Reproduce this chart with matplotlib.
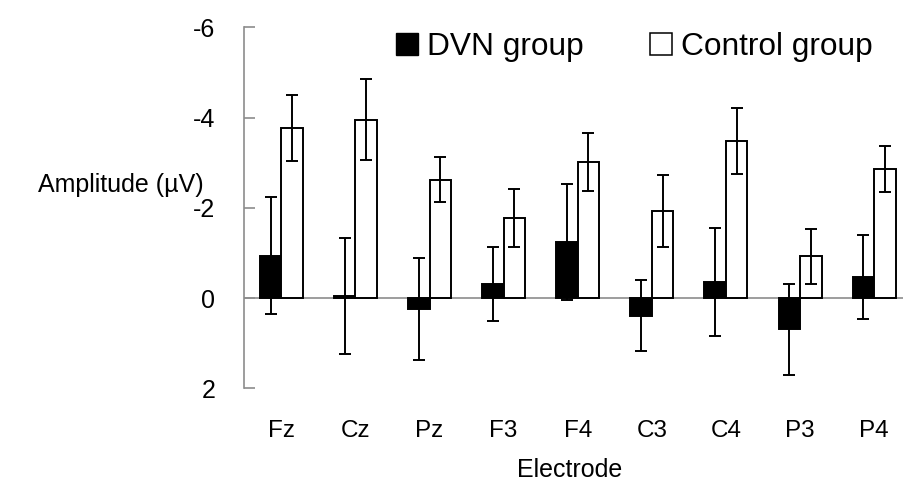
import numpy as np
import matplotlib
matplotlib.use("Agg")
import matplotlib.pyplot as plt
from matplotlib.patches import Patch

plt.rcParams['font.family'] = ['Liberation Sans', 'DejaVu Sans']

electrodes = ["Fz", "Cz", "Pz", "F3", "F4", "C3", "C4", "P3", "P4"]
dvn_mean = [-0.94, -0.05, 0.24, -0.31, -1.24, 0.39, -0.35, 0.69, -0.47]
dvn_err = [1.30, 1.29, 1.13, 0.82, 1.28, 0.79, 1.20, 1.01, 0.93]
ctrl_mean = [-3.77, -3.95, -2.62, -1.78, -3.02, -1.93, -3.48, -0.93, -2.86]
ctrl_err = [0.74, 0.90, 0.50, 0.64, 0.64, 0.80, 0.73, 0.61, 0.50]
yticks = [-6, -4, -2, 0, 2]
ytick_labels = ["-6", "-4", "-2", "0", "2"]

W, H = 904, 494
fig = plt.figure(figsize=(W / 100, H / 100), dpi=100)
ax = fig.add_axes([244.3 / W, 1 - 388.3 / H, 666.9 / W, 361.0 / H])

x = np.arange(len(electrodes))
bw = 0.29
lw = 1.4
ekw = dict(ecolor="black", elinewidth=lw, capsize=4.3, capthick=lw)
ax.bar(x - bw / 2, dvn_mean, bw, color="black", edgecolor="black",
       linewidth=lw, yerr=dvn_err, error_kw=ekw, zorder=2)
ax.bar(x + bw / 2, ctrl_mean, bw, color="white", edgecolor="black",
       linewidth=lw, yerr=ctrl_err, error_kw=ekw, zorder=2)

ax.axhline(0, color="#8c8c8c", linewidth=1.2, zorder=1)

ax.set_xlim(-0.5, 8.5)
ax.set_ylim(2, -6)
ax.set_yticks(yticks)
ax.set_yticklabels(ytick_labels)
ax.set_xticks(x)
ax.set_xticklabels(electrodes)

for s in ["top", "right", "bottom"]:
    ax.spines[s].set_visible(False)
ax.spines["left"].set_color("#8c8c8c")
ax.spines["left"].set_linewidth(1.2)
ax.tick_params(axis="y", direction="in", length=8, width=1.2, color="#8c8c8c",
               pad=21, labelsize=18)
ax.tick_params(axis="x", length=0, pad=23, labelsize=17.5)

fig.text(121 / W, 1 - 185 / H, "Amplitude (µV)", fontsize=18,
         ha="center", va="center")
fig.text(570 / W, 1 - 470 / H, "Electrode", fontsize=18,
         ha="center", va="center")

handles = [Patch(facecolor="black", edgecolor="black"),
           Patch(facecolor="white", edgecolor="black", linewidth=1.1)]
fig.legend(handles, ["DVN group", "Control group"], loc="center left",
           bbox_to_anchor=(396 / W, 1 - 47 / H), ncol=2, frameon=False,
           fontsize=22.8, handlelength=0.68, handleheight=0.68,
           handletextpad=0.3, columnspacing=2.1, borderpad=0,
           borderaxespad=0)

fig.savefig("out.png", dpi=100)
